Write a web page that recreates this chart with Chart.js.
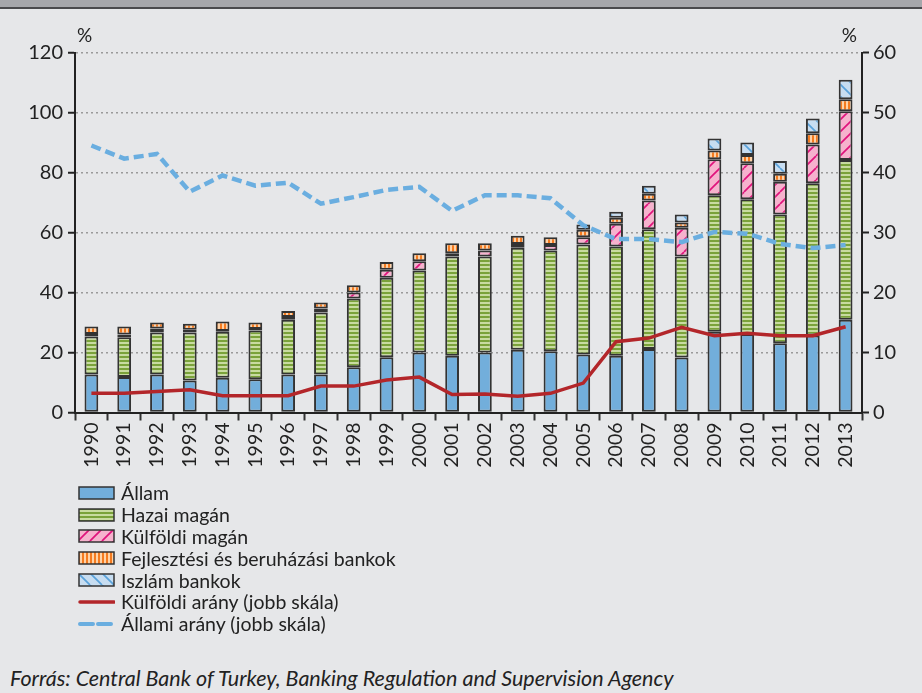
<!DOCTYPE html>
<html><head><meta charset="utf-8">
<script src="https://cdn.jsdelivr.net/npm/chart.js@4"></script>
<style>
html,body{margin:0;padding:0;}
body{width:922px;height:693px;background:#e6e7e9;position:relative;overflow:hidden;font-family:Lato,sans-serif;color:#222;}
#topband{position:absolute;left:0;top:0;width:922px;height:7px;background:#a6a7ab;border-bottom:2px solid #4a4a4d;}
#wrap{position:absolute;left:0;top:0;width:922px;height:480px;}
#legend{position:absolute;left:78px;top:482px;}
.row{height:21.8px;display:flex;align-items:center;font-size:19.5px;line-height:19px;white-space:nowrap;}
.row canvas{margin-right:6px;display:block;}
#source{position:absolute;left:10px;top:667px;font-style:italic;font-size:21.5px;line-height:22px;white-space:nowrap;}
</style>
</head><body>
<div id="topband"></div>
<div id="wrap"><canvas id="c" width="922" height="480"></canvas></div>
<div id="legend"></div>
<div id="source">Forrás: Central Bank of Turkey, Banking Regulation and Supervision Agency</div>
<script>
const years = ['1990','1991','1992','1993','1994','1995','1996','1997','1998','1999','2000','2001','2002','2003','2004','2005','2006','2007','2008','2009','2010','2011','2012','2013'];
const allam =       [12.7,11.8,12.7,10.7,11.6,11.1,12.7,12.7,15.1,18.4,20.0,18.9,20.0,20.9,20.4,19.3,18.9,21.2,18.3,26.9,26.2,23.1,25.7,30.9];
const hazaiMagan =  [12.6,13.3,14.0,16.0,15.3,16.2,18.2,20.6,22.9,26.5,27.3,33.1,32.0,34.0,33.6,36.7,36.4,39.9,33.7,45.5,44.9,42.9,50.7,53.3];
const kulfoldiMagan=[0.9,0.9,1.3,0.9,0.3,0.5,0.9,1.4,2.0,2.7,3.1,1.1,2.0,1.3,1.8,2.4,7.6,9.6,9.6,12.0,12.0,10.9,12.9,16.2];
const fejlesztesi = [2.5,2.7,2.0,2.0,3.1,2.2,2.0,2.0,2.4,2.6,2.7,3.3,2.4,2.7,2.6,2.5,2.0,2.2,1.7,2.9,2.7,2.7,3.8,4.0];
const iszlam =      [0,0,0,0,0,0,0,0,0,0,0,0,0,0,0,1.8,2.0,2.7,2.7,4.0,4.2,4.2,4.9,6.5];
const kulfoldiArany=[3.2,3.2,3.5,3.8,2.8,2.8,2.8,4.4,4.4,5.4,5.9,3.0,3.1,2.7,3.2,4.9,11.8,12.4,14.2,12.8,13.2,12.8,12.8,14.3];
const allamiArany = [44.5,42.3,43.1,36.8,39.5,37.8,38.3,34.8,35.9,37.1,37.6,33.6,36.2,36.2,35.7,31.2,28.9,28.9,28.4,30.1,29.8,28.1,27.4,27.9];
const leftMax = 120, leftStep = 20, rightMax = 60, rightStep = 10;

function tile(w,h,draw){const c=document.createElement('canvas');c.width=w;c.height=h;draw(c.getContext('2d'),w,h);return c;}
const tHazai = tile(4,4,(g)=>{g.fillStyle='#c8dba0';g.fillRect(0,0,4,4);g.fillStyle='#7aa23a';g.fillRect(0,0,4,2);});
const tFejl = tile(4,4,(g)=>{g.fillStyle='#ffd2a6';g.fillRect(0,0,4,4);g.fillStyle='#f47b20';g.fillRect(0,0,2,4);});
const tKulf = tile(12,12,(g,w,h)=>{g.fillStyle='#f6b2cd';g.fillRect(0,0,w,h);g.strokeStyle='#e0137c';g.lineWidth=1.7;
  for(const o of [-12,0,12]){g.beginPath();g.moveTo(o,h);g.lineTo(o+w,0);g.stroke();}});
const tIszl = tile(12,12,(g,w,h)=>{g.fillStyle='#c7ddf1';g.fillRect(0,0,w,h);g.strokeStyle='#5aa2da';g.lineWidth=1.7;
  for(const o of [-12,0,12]){g.beginPath();g.moveTo(o,0);g.lineTo(o+w,h);g.stroke();}});
const ctx = document.getElementById('c').getContext('2d');
const pHazai = ctx.createPattern(tHazai,'repeat');
const pFejl = ctx.createPattern(tFejl,'repeat');
const pKulf = ctx.createPattern(tKulf,'repeat');
const pIszl = ctx.createPattern(tIszl,'repeat');
const blue = '#72aedb';
const edge = '#333333';

function bar(label,data,bg){return {type:'bar',label,data,backgroundColor:bg,borderColor:edge,borderWidth:2,borderSkipped:false,stack:'s',yAxisID:'y',order:1,categoryPercentage:1,barPercentage:0.42};}

const pctPlugin = {id:'pct',afterDraw(ch){const g=ch.ctx;g.save();g.fillStyle='#222';g.font='19px Lato';g.textBaseline='alphabetic';
  g.textAlign='left';g.fillText('%',77,42);g.textAlign='right';g.fillText('%',857,42);g.restore();}};

new Chart(ctx,{
  type:'bar',
  data:{labels:years,datasets:[
    {type:'line',label:'Külföldi arány (jobb skála)',data:kulfoldiArany,yAxisID:'y1',borderColor:'#b3262a',borderWidth:3.5,pointRadius:0,fill:false,tension:0,order:0},
    {type:'line',label:'Állami arány (jobb skála)',data:allamiArany,yAxisID:'y1',borderColor:'#6aaee0',borderWidth:4.5,borderDash:[10,5],pointRadius:0,fill:false,tension:0,order:0},
    bar('Állam',allam,blue),
    bar('Hazai magán',hazaiMagan,pHazai),
    bar('Külföldi magán',kulfoldiMagan,pKulf),
    bar('Fejlesztési és beruházási bankok',fejlesztesi,pFejl),
    bar('Iszlám bankok',iszlam,pIszl)
  ]},
  options:{
    responsive:false,animation:false,devicePixelRatio:1,
    layout:{padding:{top:52.5,left:0,right:0,bottom:0}},
    plugins:{legend:{display:false},tooltip:{enabled:false}},
    scales:{
      x:{stacked:true,offset:true,
        grid:{display:true,drawOnChartArea:false,drawTicks:true,tickLength:8,tickColor:'#333',tickWidth:2,offset:true},
        border:{color:'#222',width:2},
        ticks:{minRotation:90,maxRotation:90,autoSkip:false,color:'#222',font:{family:'Lato',size:19.5},padding:2},
        afterFit(s){s.height=67.5;}},
      y:{stacked:true,position:'left',min:0,max:leftMax,
        ticks:{stepSize:leftStep,color:'#222',font:{family:'Lato',size:20},padding:5},
        grid:{color:'#9a9a9a',lineWidth:1.5,tickColor:'#222',tickLength:7,tickWidth:2,tickBorderDash:[]},
        border:{color:'#222',width:2,dash:[2,3]},
        afterFit(s){s.width=75;}},
      y1:{position:'right',min:0,max:rightMax,
        ticks:{stepSize:rightStep,color:'#222',font:{family:'Lato',size:20},padding:4},
        grid:{drawOnChartArea:false,tickColor:'#222',tickLength:7,tickWidth:2},
        border:{color:'#222',width:2},
        afterFit(s){s.width=60;}}
    }
  },
  plugins:[pctPlugin]
});

// HTML legend
const legend = document.getElementById('legend');
const items = [
  ['Állam','box',blue,null],
  ['Hazai magán','box',null,tHazai],
  ['Külföldi magán','box',null,tKulf],
  ['Fejlesztési és beruházási bankok','box',null,tFejl],
  ['Iszlám bankok','box',null,tIszl],
  ['Külföldi arány (jobb skála)','line','#b3262a',null],
  ['Állami arány (jobb skála)','dash','#6aaee0',null]
];
for(const [label,kind,col,t] of items){
  const row=document.createElement('div');row.className='row';
  const cv=document.createElement('canvas');cv.width=37;cv.height=14;
  const g=cv.getContext('2d');
  if(kind==='box'){
    g.fillStyle = t ? g.createPattern(t,'repeat') : col;
    g.fillRect(1,1,35,12);g.strokeStyle=edge;g.lineWidth=1.5;g.strokeRect(1,1,35,12);
  } else {
    g.strokeStyle=col;g.lineWidth=kind==='line'?3.5:4;g.lineCap='round';
    if(kind==='dash'){g.setLineDash([13,5]);}
    g.beginPath();g.moveTo(2,7);g.lineTo(36,7);g.stroke();
  }
  row.appendChild(cv);
  const sp=document.createElement('span');sp.textContent=label;row.appendChild(sp);
  legend.appendChild(row);
}
</script>
</body></html>
